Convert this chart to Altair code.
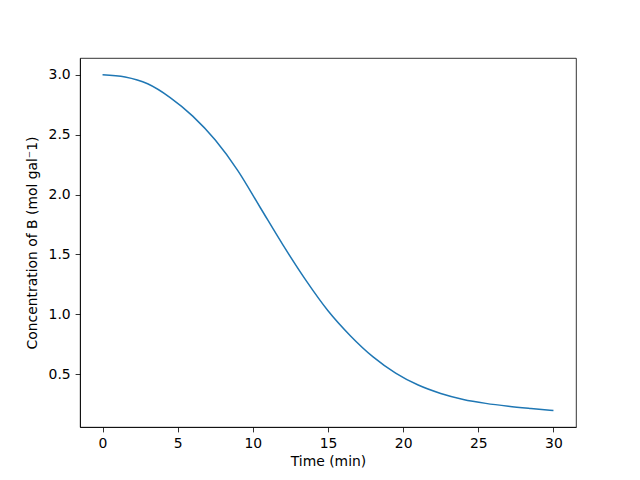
import altair as alt
import pandas as pd

time_min = [0.0, 1.5, 3.0, 4.5, 6.0, 7.5, 9.0, 10.5, 12.0, 13.5, 15.0,
            16.5, 18.0, 19.5, 21.0, 22.5, 24.0, 25.5, 27.0, 28.5, 30.0]
conc_b = [3.0, 2.982, 2.925, 2.81, 2.655, 2.455, 2.20, 1.89, 1.58, 1.29, 1.03,
          0.82, 0.645, 0.51, 0.41, 0.34, 0.29, 0.257, 0.233, 0.214, 0.197]

df = pd.DataFrame({"t": time_min, "c": conc_b})

font = "DejaVu Sans"

chart = alt.Chart(df).mark_line(color="#1f77b4", strokeWidth=1.5, clip=True,
                                interpolate="monotone").encode(
    x=alt.X("t:Q", title="Time (min)",
            scale=alt.Scale(domain=[-1.5, 31.5], nice=False, zero=False),
            axis=alt.Axis(values=[0, 5, 10, 15, 20, 25, 30], format="d",
                          titlePadding=4)),
    y=alt.Y("c:Q", title="Concentration of B (mol gal\u207b1)",
            scale=alt.Scale(domain=[0.0598, 3.1402], nice=False, zero=False),
            axis=alt.Axis(values=[0.5, 1.0, 1.5, 2.0, 2.5, 3.0], format=".1f",
                          titlePadding=9)),
).properties(
    width=496, height=369,
    autosize=alt.AutoSizeParams(type="none"),
    padding={"left": 72, "top": 50, "right": 56, "bottom": 45},
).configure_view(
    stroke="black", strokeWidth=0.8
).configure_axis(
    grid=False,
    domainColor="black", domainWidth=0.8,
    tickColor="black", tickWidth=0.8, tickSize=4.9,
    labelPadding=4.9,
    labelFont=font, labelFontSize=13.9, labelColor="black",
    titleFont=font, titleFontSize=13.9, titleFontWeight="normal", titleColor="black",
)

chart.save("out.html", embed_options={"renderer": "svg", "actions": False})
